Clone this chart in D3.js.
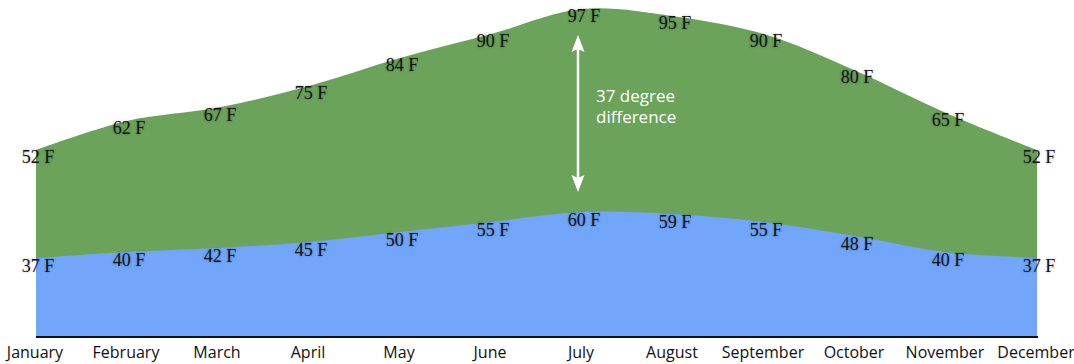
<!DOCTYPE html>
<html>
<head>
<meta charset="utf-8">
<script src="https://cdn.jsdelivr.net/npm/d3@7"></script>
<style>
  html, body { margin: 0; padding: 0; background: #fff; }
  svg { display: block; }
  .val { font-family: "Liberation Serif", "DejaVu Serif", serif; font-size: 18px; fill: #111;
         text-shadow: 0 0 3px rgba(0,0,0,0.3); }
  .month { font-family: "Open Sans", "Noto Sans", sans-serif; font-size: 16px; fill: #111; }
  .note { font-family: "Open Sans", "Noto Sans", sans-serif; font-size: 17px; fill: #fff; }
</style>
</head>
<body>
<svg id="chart" width="1074" height="364"></svg>
<script>
// Monthly average temperatures (°F)
const months = ["January", "February", "March", "April", "May", "June",
                "July", "August", "September", "October", "November", "December"];
const highs = [52, 62, 67, 75, 84, 90, 97, 95, 90, 80, 65, 52];
const lows  = [37, 40, 42, 45, 50, 55, 60, 59, 55, 48, 40, 37];
const unit = "F";
const noteLines = ["37 degree", "difference"];

const svg = d3.select("#chart");
const baseY = 336;

const x = d3.scalePoint().domain(months).range([36, 1037]);
// separate vertical scales for the high band and the low band
const yHigh = d3.scaleLinear().domain([52, 62, 75, 84, 90, 97]).range([150, 121, 86, 58, 34, 9]);
const yLow  = d3.scaleLinear().domain([37, 60]).range([258, 212]);

const curve = d3.curveCatmullRom.alpha(0.5);

const highArea = d3.area()
  .x((d, i) => x(months[i]))
  .y0(baseY)
  .y1(d => yHigh(d))
  .curve(curve);

const lowArea = d3.area()
  .x((d, i) => x(months[i]))
  .y0(baseY)
  .y1(d => yLow(d))
  .curve(curve);

svg.append("path").datum(highs).attr("d", highArea).attr("fill", "#6ba35b");
svg.append("path").datum(lows).attr("d", lowArea).attr("fill", "#71a6fa");

// baseline axis
svg.append("line")
  .attr("x1", x(months[0])).attr("x2", x(months[months.length - 1]) + 1)
  .attr("y1", baseY + 1).attr("y2", baseY + 1)
  .attr("stroke", "#111").attr("stroke-width", 2);

// month labels
svg.selectAll("text.month").data(months).enter().append("text")
  .attr("class", "month")
  .attr("x", d => x(d) - 1)
  .attr("y", 358)
  .attr("text-anchor", "middle")
  .text(d => d);

// value labels
svg.selectAll("text.hi").data(highs).enter().append("text")
  .attr("class", "val")
  .attr("x", (d, i) => x(months[i]) + 2)
  .attr("y", d => yHigh(d) + 13)
  .attr("text-anchor", "middle")
  .text(d => d + " " + unit);

svg.selectAll("text.lo").data(lows).enter().append("text")
  .attr("class", "val")
  .attr("x", (d, i) => x(months[i]) + 2)
  .attr("y", d => yLow(d) + 14)
  .attr("text-anchor", "middle")
  .text(d => d + " " + unit);

// difference marker in July
const jx = x("July") - 4;
const arrowTop = yHigh(highs[6]) + 26, arrowBot = yLow(lows[6]) - 20;
svg.append("line")
  .attr("x1", jx).attr("x2", jx)
  .attr("y1", arrowTop + 10).attr("y2", arrowBot - 10)
  .attr("stroke", "#fff").attr("stroke-width", 2.5);
svg.append("path")
  .attr("d", `M${jx},${arrowTop} L${jx - 6.5},${arrowTop + 17} L${jx},${arrowTop + 14} L${jx + 6.5},${arrowTop + 17} Z`)
  .attr("fill", "#fff");
svg.append("path")
  .attr("d", `M${jx},${arrowBot} L${jx - 6.5},${arrowBot - 17} L${jx},${arrowBot - 14} L${jx + 6.5},${arrowBot - 17} Z`)
  .attr("fill", "#fff");

svg.selectAll("text.note").data(noteLines).enter().append("text")
  .attr("class", "note")
  .attr("x", jx + 18)
  .attr("y", (d, i) => 102 + i * 21)
  .text(d => d);
</script>
</body>
</html>
